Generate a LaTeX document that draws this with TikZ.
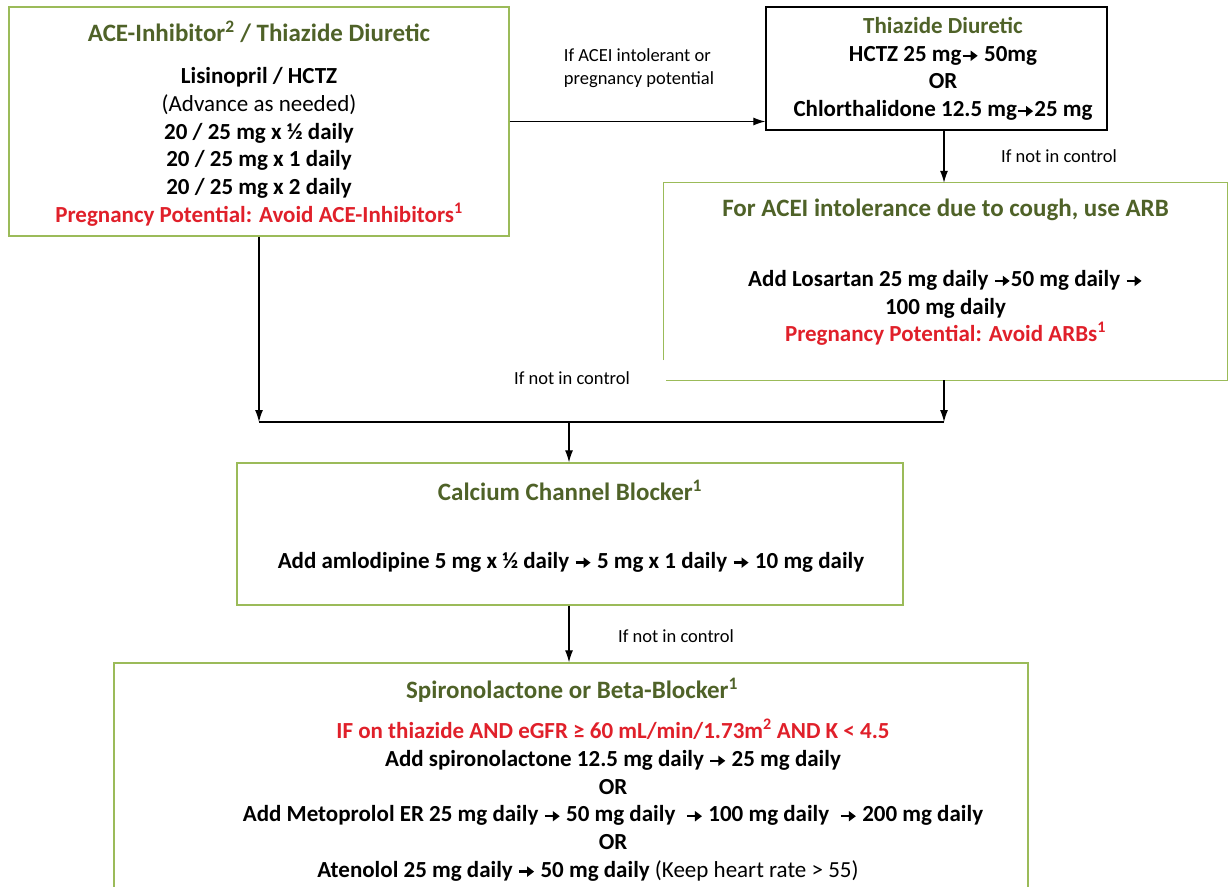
\documentclass[tikz,border=0pt]{standalone}
\usepackage{fontspec}
\setmainfont{Carlito}
\usepackage{xcolor}
\usetikzlibrary{positioning,calc,arrows.meta}

\definecolor{boxgreen}{HTML}{9BBB59}
\definecolor{titlegreen}{HTML}{4F6228}
\definecolor{warnred}{HTML}{E0202A}
\newcommand{\ra}{\tikz[baseline=-5.5pt, x=1pt, y=1pt]\draw[-{Triangle[length=7pt,width=10pt]}, line width=2.4pt] (0,0) -- (15,0);}

\tikzset{
  stepbox/.style={draw=boxgreen, line width=1.3pt, inner sep=0pt},
  boxtitle/.style={text=titlegreen, font=\bfseries\fontsize{25}{28}\selectfont},
  boxbody/.style={align=center, font=\bfseries\fontsize{23}{27.7}\selectfont},
  note/.style={align=left, font=\fontsize{18.5}{23}\selectfont},
  flow/.style={-{Latex[length=12pt,width=8pt]}, line width=1.2pt},
}

\begin{document}
\begin{tikzpicture}[x=1pt,y=-1pt]
            \useasboundingbox (0,0) rectangle (1228,886);

            \node[stepbox, minimum width=500pt, minimum height=229pt] (ace) at (259,121.5) {};
            \node[boxtitle] (acetitle) at (259,32) {ACE-Inhibitor\textsuperscript{2} / Thiazide Diuretic};
            \node[boxbody] (acebody) at (259,147) {Lisinopril / HCTZ\\ {\mdseries (Advance as needed)}\\ 20 / 25 mg x ½ daily\\ 20 / 25 mg x 1 daily\\ 20 / 25 mg x 2 daily\\ \textcolor{warnred}{Pregnancy Potential: Avoid ACE-Inhibitors\textsuperscript{1}}};

            \node[draw, line width=1.3pt, minimum width=341pt, minimum height=123pt] (thz) at (936.5,68.5) {};
            \node[boxbody] (thzbody) at (943,69) {\textcolor{titlegreen}{Thiazide Diuretic}\\ HCTZ 25 mg\ra{} 50mg\\ OR\\ Chlorthalidone 12.5 mg\ra 25 mg};

            \node[minimum width=563pt, minimum height=197pt] (arb) at (945.5,281.5) {};
            \draw[boxgreen, line width=1.3pt] ($(arb.south west)+(0,-20)$) -- (arb.north west) -- (arb.north east) -- (arb.south east) -- ($(arb.south west)+(2,0)$);
            \node[boxtitle] (arbtitle) at (945.5,210) {For ACEI intolerance due to cough, use ARB};
            \node[boxbody] (arbbody) at (945.5,308) {Add Losartan 25 mg daily \ra50 mg daily \ra\\ 100 mg daily\\ \textcolor{warnred}{Pregnancy Potential: Avoid ARBs\textsuperscript{1}}};

            \node[stepbox, minimum width=666pt, minimum height=142pt] (ccb) at (570,534) {};
            \node[boxtitle] (ccbtitle) at (570,490) {Calcium Channel Blocker\textsuperscript{1}};
            \node[boxbody] (ccbbody) at (571,562) {Add amlodipine 5 mg x ½ daily \ra{} 5 mg x 1 daily \ra{} 10 mg daily};

            \node[stepbox, minimum width=914pt, minimum height=274pt] (spiro) at (571,800) {};
            \node[boxtitle] (spirotitle) at (572,690) {Spironolactone or Beta-Blocker\textsuperscript{1}};
            \node[boxbody] (spirobody) at (613,800) {\textcolor{warnred}{IF on thiazide AND eGFR ≥ 60 mL/min/1.73m\textsuperscript{2} AND K < 4.5}\\ Add spironolactone 12.5 mg daily \ra{} 25 mg daily\\ OR\\ Add Metoprolol ER 25 mg daily \ra{} 50 mg daily~ \ra{} 100 mg daily~ \ra{} 200 mg daily\\ OR\\ Atenolol 25 mg daily \ra{} 50 mg daily {\mdseries (Keep heart rate > 55)}\hspace*{50pt}};

            \coordinate (jleft) at (259,422);
            \coordinate (jright) at (944,422);
            \coordinate (jmid) at (569,422);

            \draw[flow] (ace.east) -- (ace.east -| thz.west);
            \node[note] (intol) at (639,68) {If ACEI intolerant or\\pregnancy potential};
            \draw[flow] (thz.south -| jright) -- (arb.north -| jright);
            \node[note] (ctl1) at (1059,156) {If not in control};
            \draw[flow] (ace.south) -- (jleft);
            \draw[flow] (arb.south -| jright) -- (jright);
            \draw[line width=1.5pt] (jleft) -- (jright);
            \node[note] (ctl2) at (572,378) {If not in control};
            \draw[flow] (jmid) -- (ccb.north -| jmid);
            \draw[flow] (ccb.south -| jmid) -- (spiro.north -| jmid);
            \node[note] (ctl3) at (676,636) {If not in control};
          \end{tikzpicture}
\end{document}
